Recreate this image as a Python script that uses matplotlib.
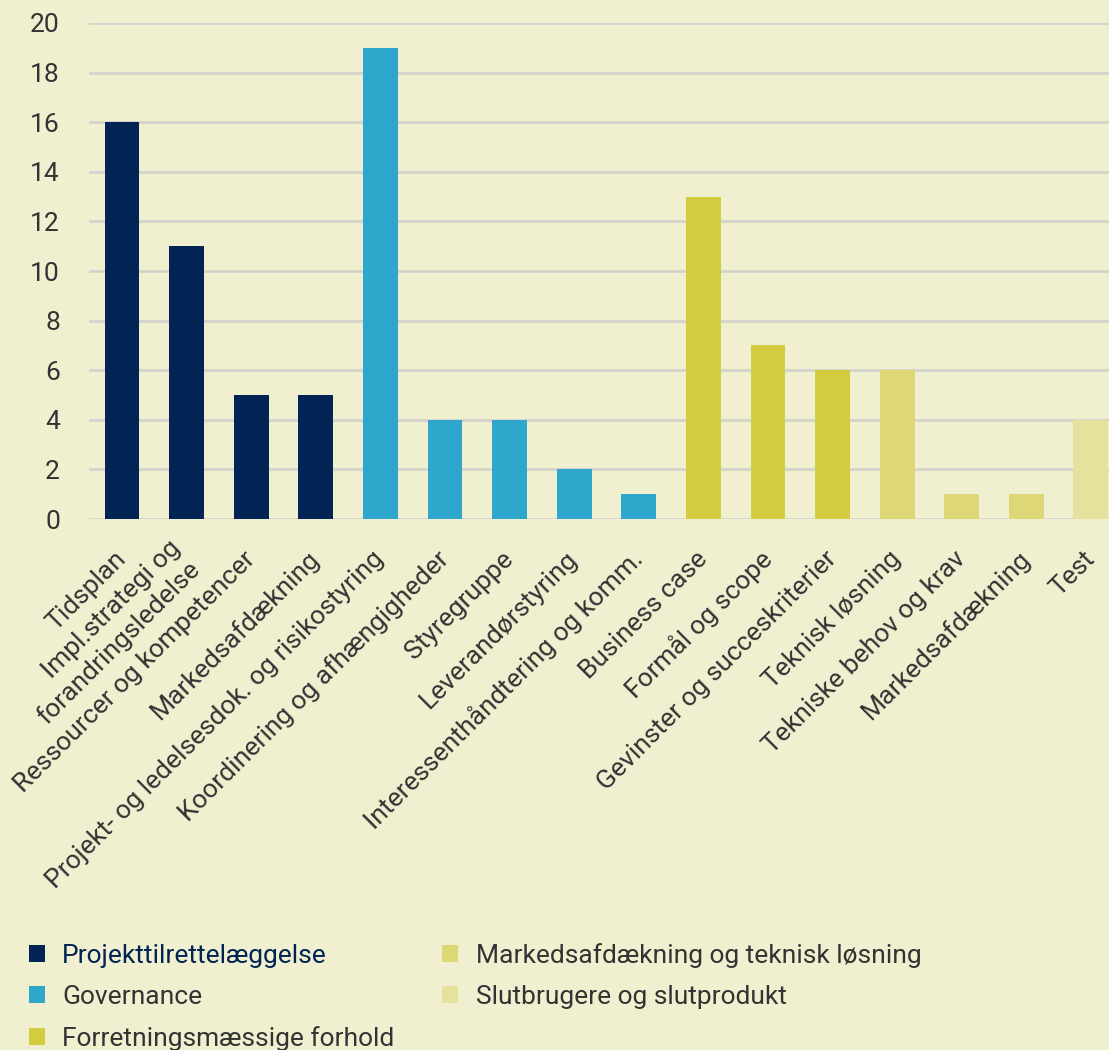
import matplotlib
matplotlib.use("Agg")
import matplotlib.pyplot as plt
from matplotlib.patches import Patch

plt.rcParams['font.family'] = ['Roboto', 'DejaVu Sans']

categories = [
    "Tidsplan",
    "Impl.strategi og\nforandringsledelse",
    "Ressourcer og kompetencer",
    "Markedsafdækning",
    "Projekt- og ledelsesdok. og risikostyring",
    "Koordinering og afhængigheder",
    "Styregruppe",
    "Leverandørstyring",
    "Interessenthåndtering og komm.",
    "Business case",
    "Formål og scope",
    "Gevinster og succeskriterier",
    "Teknisk løsning",
    "Tekniske behov og krav",
    "Markedsafdækning",
    "Test",
]
values = [16, 11, 5, 5, 19, 4, 4, 2, 1, 13, 7, 6, 6, 1, 1, 4]
groups = [0, 0, 0, 0, 1, 1, 1, 1, 1, 2, 2, 2, 3, 3, 3, 4]
group_names = [
    "Projekttilrettelæggelse",
    "Governance",
    "Forretningsmæssige forhold",
    "Markedsafdækning og teknisk løsning",
    "Slutbrugere og slutprodukt",
]
group_colors = ["#012454", "#2fa7cc", "#d4cc3f", "#ddd775", "#e5e29e"]

bg = "#f0efd0"
fig = plt.figure(figsize=(11.09, 10.5), dpi=100, facecolor=bg)
ax = fig.add_axes([0.0803, 0.5057, 0.9197, 0.4724], facecolor=bg)

x = list(range(len(categories)))
ax.bar(x, values, width=0.54, color=[group_colors[g] for g in groups], zorder=3)

ax.set_ylim(0, 20)
ax.set_xlim(-0.51, 15.28)
ax.set_yticks(range(0, 21, 2))
ax.yaxis.grid(True, color="#d3d3cc", linewidth=2, zorder=0)
ax.set_axisbelow(True)
for s in ax.spines.values():
    s.set_visible(False)
ax.tick_params(axis='both', length=0, labelsize=19, labelcolor="#333333")
ax.tick_params(axis='y', pad=21)
ax.tick_params(axis='x', pad=26)
ax.set_xticks(x)
ax.set_xticklabels(categories, rotation=45, ha='right', va='center',
                   rotation_mode='anchor', multialignment='right')

handles = [Patch(facecolor=c, edgecolor='none') for c in group_colors]
leg = fig.legend(handles, group_names, loc='upper left', bbox_to_anchor=(0.026, 0.102),
                 ncol=2, frameon=False, fontsize=19, handlelength=0.62, handleheight=0.62,
                 handletextpad=0.65, columnspacing=1.8, labelspacing=0.65,
                 borderaxespad=0, borderpad=0)
for i, t in enumerate(leg.get_texts()):
    t.set_color("#012454" if i == 0 else "#333333")

fig.savefig("out.png", dpi=100, facecolor=bg)
